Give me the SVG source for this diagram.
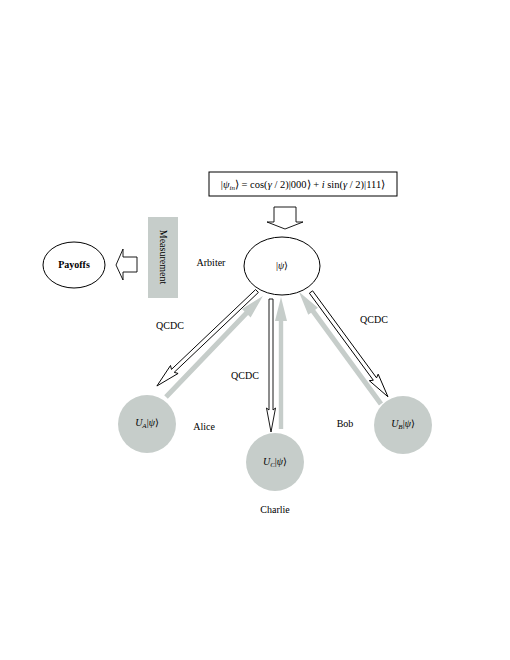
<svg xmlns="http://www.w3.org/2000/svg" width="510" height="660" viewBox="0 0 510 660">
<style>
text{font-family:"Liberation Serif","Times New Roman",serif;font-size:10px;fill:#000}
.lab{text-anchor:middle}
.it{font-style:italic}
.ol{fill:#fff;stroke:#000;stroke-width:0.9}
.gr{fill:#c6cdca;stroke:none}
.pl{fill:#c6cdca;stroke:none}
</style>
<rect width="510" height="660" fill="#fff"/>
<g id="initial-state">
<rect x="209" y="172" width="188" height="24" fill="#fff" stroke="#000" stroke-width="1"/>
<text x="303" y="188" class="lab" style="font-size:10.5px">|<tspan class="it">ψ</tspan><tspan class="it" dy="2" style="font-size:7px">in</tspan><tspan dy="-2">⟩ = cos(</tspan><tspan class="it">γ</tspan> / 2)|000⟩ + <tspan class="it">i</tspan> sin(<tspan class="it">γ</tspan> / 2)|111⟩</text>
</g>
<g id="arbiter">
<ellipse cx="282" cy="266" rx="38" ry="29" fill="#fff" stroke="#000" stroke-width="1"/>
<text x="282" y="269" class="lab">|<tspan class="it">ψ</tspan>⟩</text>
<text x="211" y="266" class="lab">Arbiter</text>
</g>
<g id="measurement">
<rect x="148" y="217" width="30" height="81" fill="#c6cdca"/>
<text x="0" y="0" class="lab" transform="translate(160,257) rotate(90)">Measurement</text>
</g>
<g id="payoffs">
<ellipse cx="74" cy="265" rx="31" ry="23" fill="#fff" stroke="#000" stroke-width="1"/>
<text x="74" y="268" class="lab" style="font-weight:bold">Payoffs</text>
</g>
<g id="alice">
<circle cx="147" cy="424" r="29" class="pl"/>
<text x="147" y="426" class="lab"><tspan class="it">U</tspan><tspan class="it" dy="2" style="font-size:7px">A</tspan><tspan dy="-2">|</tspan><tspan class="it">ψ</tspan>⟩</text>
<text x="204" y="430" class="lab">Alice</text>
</g>
<g id="charlie">
<circle cx="275" cy="462" r="29" class="pl"/>
<text x="275" y="465" class="lab"><tspan class="it">U</tspan><tspan class="it" dy="2" style="font-size:7px">C</tspan><tspan dy="-2">|</tspan><tspan class="it">ψ</tspan>⟩</text>
<text x="275" y="513" class="lab">Charlie</text>
</g>
<g id="bob">
<circle cx="403" cy="425" r="29" class="pl"/>
<text x="403" y="427" class="lab"><tspan class="it">U</tspan><tspan class="it" dy="2" style="font-size:7px">B</tspan><tspan dy="-2">|</tspan><tspan class="it">ψ</tspan>⟩</text>
<text x="345" y="427" class="lab">Bob</text>
</g>
<g id="connectors">
<polygon class="ol" points="274,207 296,207 296,222 303,222 285,229 267,222 274,222"/>
<polygon class="ol" points="137,257 137,272 123,272 123,280 116,265 123,249 123,257"/>
<polygon class="ol" transform="translate(257,291) rotate(136.5)" points="0,-2 116,-2 114,-5.5 138,0 114,5.5 116,2 0,2"/>
<polygon class="ol" transform="translate(271,299) rotate(90)" points="0,-2 111,-2 109,-4.5 133,0 109,4.5 111,2 0,2"/>
<polygon class="ol" transform="translate(311,292) rotate(53.7)" points="0,-2 108,-2 106,-5.5 130,0 106,5.5 108,2 0,2"/>
<polygon class="gr" transform="translate(166,397) rotate(-46.2)" points="0,-2.5 116,-2.5 116,-6 140,0 116,6 116,2.5 0,2.5"/>
<polygon class="gr" transform="translate(281,429) rotate(-90)" points="0,-2.2 108,-2.2 108,-6 132,0 108,6 108,2.2 0,2.2"/>
<polygon class="gr" transform="translate(381,404) rotate(-126.2)" points="0,-2.5 115,-2.5 115,-6 139,0 115,6 115,2.5 0,2.5"/>
<text x="170" y="329" class="lab">QCDC</text>
<text x="245" y="379" class="lab">QCDC</text>
<text x="374" y="323" class="lab">QCDC</text>
</g>
</svg>
